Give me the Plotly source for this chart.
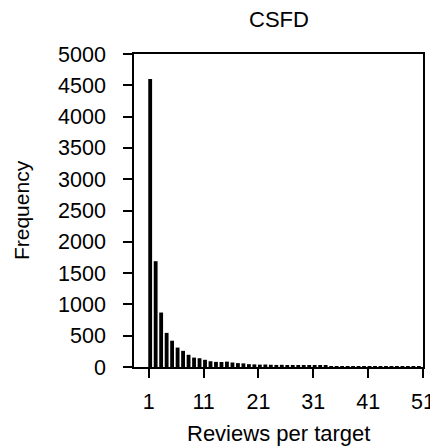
import plotly.graph_objects as go

reviews_per_target = list(range(1, 51))
frequency = [4600, 1690, 870, 545, 420, 310, 258, 195, 150, 140,
             115, 92, 82, 80, 86, 72, 62, 58, 45, 42,
             38, 40, 36, 33, 35, 30, 28, 26, 24, 22,
             20, 18, 19, 16, 15, 14, 13, 12, 11, 10,
             9, 8, 8, 7, 6, 6, 5, 5, 4, 4]
x_ticks = [1, 11, 21, 31, 41, 51]
y_ticks = list(range(0, 5001, 500))

FONT = "Liberation Sans, Arial, Helvetica, sans-serif"

fig = go.Figure(go.Bar(
    x=reviews_per_target, y=frequency,
    marker=dict(color="black", line=dict(width=0)),
    width=0.7, offset=-0.1,
))

axis_common = dict(
    showline=True, linecolor="black", linewidth=1.5, mirror=True,
    ticks="outside", ticklen=9, tickwidth=1.5, tickcolor="black",
    showgrid=False, zeroline=False, automargin=False,
    tickfont=dict(family=FONT, size=21.5, color="black"),
)

fig.update_xaxes(range=[-1.7, 51], tickvals=x_ticks, ticktext=[str(v) for v in x_ticks],
                 ticklabelstandoff=5, **axis_common)
fig.update_yaxes(range=[0, 5000], tickvals=y_ticks, ticktext=[str(v) for v in y_ticks],
                 ticklabelstandoff=13, **axis_common)

# page body has an 8px margin, so the figure is 8px smaller and shifted
fig.update_layout(
    template="none",
    width=430, height=438,
    margin=dict(l=126, r=15, t=46, b=79, autoexpand=False),
    plot_bgcolor="white", paper_bgcolor="white",
    showlegend=False,
    annotations=[
        dict(text="CSFD", x=0.5, y=1.109, xref="paper", yref="paper",
             showarrow=False, xanchor="center", yanchor="middle",
             font=dict(family=FONT, size=22, color="black")),
        dict(text="Reviews per target", x=0.5, y=-0.214, xref="paper", yref="paper",
             showarrow=False, xanchor="center", yanchor="middle",
             font=dict(family=FONT, size=22, color="black")),
        dict(text="Frequency", x=-0.389, y=0.5, xref="paper", yref="paper",
             showarrow=False, xanchor="center", yanchor="middle", textangle=-90,
             font=dict(family=FONT, size=21, color="black")),
    ],
)

fig.write_html("out.html")
